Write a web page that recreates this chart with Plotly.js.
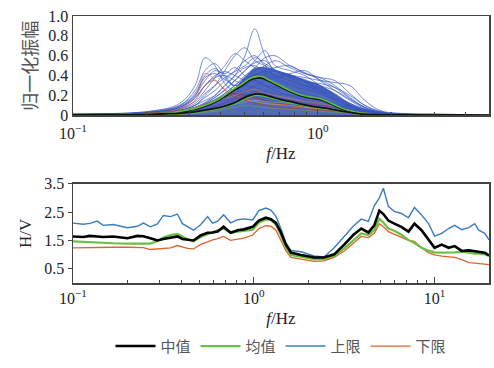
<!DOCTYPE html>
<html><head><meta charset="utf-8">
<script src="https://cdn.plot.ly/plotly-3.0.1.min.js"></script>
<style>html,body{margin:0;padding:0;background:#fff;}#chart{width:494px;height:368px;}</style>
</head><body><div id="chart"></div>
<script>
// ---------- Top panel: normalized amplitude spectra ----------
const bundleFreq = [0.1,0.206,0.273,0.315,0.346,0.380,0.417,0.458,0.504,0.553,0.608,0.668,0.769,0.885,1.019,1.173,1.351,1.555,1.791,2.161,5.0];
const denseEnvelope = [0.01,0.02,0.04,0.07,0.11,0.15,0.2,0.27,0.38,0.47,0.48,0.45,0.41,0.35,0.3,0.21,0.11,0.05,0.02,0.01,0.005];
const blueSpectra = [
  [0.01,0.04,0.12,0.3,0.58,0.5,0.32,0.25,0.3,0.35,0.3,0.25,0.2,0.15,0.12,0.1,0.06,0.03,0.02,0.01,0.005],
  [0.01,0.03,0.1,0.25,0.45,0.52,0.4,0.3,0.33,0.4,0.38,0.3,0.25,0.2,0.15,0.12,0.08,0.04,0.02,0.01,0.005],
  [0.01,0.03,0.08,0.2,0.35,0.45,0.42,0.48,0.4,0.35,0.3,0.28,0.25,0.22,0.18,0.12,0.07,0.04,0.02,0.01,0.005],
  [0.005,0.02,0.05,0.1,0.15,0.2,0.3,0.4,0.6,0.87,0.6,0.45,0.4,0.35,0.25,0.2,0.1,0.05,0.02,0.01,0.005],
  [0.005,0.02,0.05,0.1,0.2,0.3,0.45,0.6,0.68,0.55,0.5,0.45,0.38,0.3,0.25,0.18,0.1,0.05,0.02,0.01,0.005],
  [0.005,0.02,0.04,0.08,0.12,0.18,0.25,0.35,0.45,0.55,0.65,0.5,0.45,0.4,0.3,0.22,0.12,0.06,0.03,0.01,0.005],
  [0.005,0.02,0.04,0.07,0.1,0.15,0.22,0.3,0.38,0.45,0.5,0.55,0.48,0.42,0.38,0.3,0.18,0.08,0.03,0.01,0.005],
  [0.005,0.02,0.05,0.1,0.18,0.25,0.35,0.45,0.55,0.6,0.5,0.4,0.42,0.45,0.35,0.25,0.15,0.07,0.03,0.01,0.005],
  [0.005,0.03,0.07,0.14,0.25,0.38,0.5,0.62,0.55,0.48,0.45,0.4,0.35,0.3,0.28,0.2,0.12,0.06,0.02,0.01,0.005],
  [0.005,0.015,0.03,0.05,0.08,0.12,0.18,0.25,0.32,0.4,0.45,0.48,0.5,0.42,0.38,0.35,0.22,0.1,0.04,0.015,0.005],
  [0.005,0.03,0.08,0.18,0.3,0.38,0.4,0.35,0.3,0.28,0.25,0.22,0.2,0.18,0.15,0.1,0.06,0.03,0.015,0.008,0.004],
  [0.005,0.015,0.04,0.08,0.12,0.18,0.26,0.35,0.45,0.53,0.55,0.45,0.38,0.34,0.32,0.28,0.2,0.1,0.04,0.015,0.005],
  [0.005,0.02,0.04,0.08,0.13,0.2,0.3,0.4,0.48,0.5,0.42,0.38,0.32,0.28,0.22,0.16,0.09,0.05,0.02,0.01,0.005],
  [0.005,0.01,0.02,0.04,0.06,0.09,0.13,0.18,0.24,0.3,0.35,0.38,0.4,0.38,0.35,0.33,0.3,0.15,0.05,0.02,0.005],
  [0.01,0.04,0.1,0.22,0.4,0.47,0.38,0.28,0.22,0.2,0.18,0.15,0.12,0.1,0.08,0.06,0.04,0.02,0.01,0.008,0.004],
  [0.005,0.015,0.03,0.06,0.1,0.15,0.2,0.26,0.32,0.38,0.42,0.45,0.4,0.36,0.3,0.25,0.16,0.08,0.03,0.01,0.005],
  [0.008,0.03,0.09,0.2,0.38,0.42,0.36,0.3,0.35,0.42,0.4,0.36,0.3,0.26,0.22,0.15,0.09,0.04,0.02,0.01,0.005],
  [0.006,0.025,0.06,0.12,0.22,0.3,0.38,0.44,0.5,0.58,0.52,0.46,0.4,0.33,0.27,0.2,0.12,0.06,0.025,0.01,0.005],
  [0.005,0.015,0.035,0.07,0.11,0.16,0.22,0.3,0.4,0.48,0.58,0.6,0.5,0.43,0.36,0.28,0.17,0.08,0.03,0.012,0.005],
  [0.007,0.03,0.08,0.17,0.3,0.4,0.44,0.4,0.36,0.4,0.44,0.4,0.35,0.3,0.24,0.17,0.1,0.05,0.02,0.01,0.005]
];
const colorSpectra = [
  [0.006,0.025,0.07,0.18,0.42,0.36,0.26,0.2,0.18,0.16,0.14,0.12,0.1,0.08,0.06,0.04,0.02,0.01,0.005,0.003,0.002],
  [0.005,0.01,0.03,0.06,0.1,0.15,0.2,0.22,0.2,0.18,0.15,0.13,0.1,0.09,0.07,0.05,0.03,0.015,0.008,0.004,0.002],
  [0.003,0.008,0.015,0.03,0.05,0.07,0.1,0.12,0.15,0.14,0.12,0.11,0.1,0.08,0.07,0.06,0.04,0.02,0.01,0.005,0.002],
  [0.004,0.01,0.02,0.04,0.06,0.09,0.12,0.16,0.2,0.24,0.22,0.18,0.15,0.12,0.1,0.08,0.05,0.025,0.01,0.005,0.002],
  [0.003,0.006,0.012,0.02,0.03,0.04,0.06,0.08,0.1,0.09,0.08,0.07,0.06,0.05,0.04,0.03,0.02,0.01,0.005,0.003,0.001],
  [0.004,0.01,0.02,0.035,0.05,0.07,0.09,0.11,0.13,0.15,0.14,0.13,0.12,0.1,0.08,0.06,0.03,0.015,0.008,0.004,0.002],
  [0.005,0.015,0.04,0.08,0.12,0.15,0.17,0.2,0.24,0.26,0.22,0.2,0.17,0.14,0.12,0.09,0.05,0.02,0.01,0.005,0.002],
  [0.006,0.02,0.06,0.15,0.3,0.35,0.25,0.18,0.15,0.12,0.1,0.08,0.07,0.06,0.05,0.04,0.02,0.01,0.005,0.003,0.002]
];
const colorSpectraColors = ['#d95319','#a2142f','#edb120','#7e2f8e','#77ac30','#4dbeee','#e07b39','#c0392b'];

const topFreq = [0.1,0.129,0.171,0.206,0.238,0.273,0.315,0.362,0.398,0.450,0.494,0.528,0.558,0.591,0.637,0.700,0.769,0.844,0.927,1.019,1.119,1.230,1.351,1.484,1.791,2.609,3.799,5.0];
const topUpperGreen = [0.01,0.01,0.012,0.015,0.02,0.04,0.07,0.12,0.17,0.26,0.32,0.37,0.39,0.39,0.35,0.30,0.25,0.21,0.185,0.17,0.13,0.08,0.045,0.025,0.01,0.008,0.006,0.005];
const topUpperBlack = [0.008,0.008,0.01,0.012,0.017,0.035,0.062,0.11,0.16,0.245,0.305,0.355,0.375,0.375,0.34,0.29,0.24,0.2,0.175,0.16,0.12,0.072,0.04,0.02,0.008,0.006,0.005,0.004];
const topLowerBlack = [0.005,0.006,0.008,0.01,0.015,0.02,0.035,0.06,0.08,0.12,0.17,0.2,0.215,0.21,0.19,0.16,0.14,0.115,0.095,0.08,0.065,0.045,0.03,0.015,0.008,0.005,0.004,0.003];
const topLowerGreen = [0.004,0.005,0.006,0.008,0.012,0.016,0.03,0.052,0.072,0.11,0.158,0.188,0.203,0.198,0.178,0.15,0.13,0.106,0.087,0.072,0.058,0.04,0.026,0.012,0.006,0.004,0.003,0.002];
const topYTicks = [0,0.2,0.4,0.6,0.8,1.0];
const topYTickText = ['0','0.2','0.4','0.6','0.8','1.0'];

// ---------- Bottom panel: H/V ----------
const hvFreq = [0.100,0.114,0.124,0.136,0.147,0.167,0.200,0.227,0.245,0.268,0.293,0.316,0.346,0.378,0.403,0.430,0.464,0.508,0.555,0.592,0.631,0.681,0.745,0.815,0.880,0.987,1.066,1.166,1.243,1.326,1.413,1.506,1.606,1.824,2.154,2.448,2.783,3.162,3.548,3.930,4.30,4.64,4.95,5.21,5.55,5.99,6.55,7.17,7.74,8.47,9.26,10.0,10.94,11.96,12.92,14.13,15.45,16.68,17.55,18.96,20.0];
const hvUpper = [2.11,2.07,2.10,2.18,2.03,2.06,1.95,2.00,2.11,1.98,2.08,2.38,2.34,2.43,2.09,1.98,1.86,2.05,2.34,2.11,2.18,2.40,2.12,2.23,2.26,2.22,2.55,2.64,2.57,2.35,1.92,1.41,1.15,1.10,0.95,0.92,1.24,1.64,2.00,2.25,2.17,2.72,3.00,3.34,2.70,2.52,2.45,2.30,2.66,2.40,2.09,1.65,1.75,1.92,2.03,1.88,1.95,2.09,1.86,1.75,1.52];
const hvMedian = [1.64,1.62,1.66,1.63,1.62,1.64,1.58,1.66,1.65,1.58,1.50,1.55,1.60,1.64,1.55,1.53,1.50,1.68,1.77,1.78,1.81,1.98,1.77,1.86,1.89,1.98,2.20,2.30,2.25,2.12,1.78,1.35,1.07,0.99,0.90,0.90,1.01,1.35,1.69,1.92,1.78,2.03,2.55,2.43,2.20,2.09,1.98,1.81,2.09,1.86,1.52,1.24,1.35,1.24,1.30,1.13,1.15,1.12,1.10,1.07,0.97];
const hvMean = [1.47,1.45,1.43,1.42,1.41,1.40,1.39,1.39,1.39,1.39,1.48,1.60,1.69,1.73,1.64,1.54,1.47,1.62,1.72,1.80,1.86,1.92,1.77,1.81,1.83,1.88,2.12,2.24,2.22,2.05,1.69,1.24,0.99,0.92,0.84,0.84,0.95,1.22,1.52,1.75,1.69,1.86,2.26,2.13,1.92,1.84,1.70,1.52,1.41,1.24,1.14,1.08,1.07,1.07,1.08,1.10,1.06,1.03,1.03,1.01,0.95];
const hvLower = [1.24,1.25,1.24,1.26,1.27,1.26,1.26,1.27,1.25,1.18,1.20,1.22,1.24,1.32,1.27,1.22,1.20,1.36,1.45,1.52,1.56,1.64,1.50,1.55,1.58,1.69,1.92,2.02,2.00,1.86,1.52,1.13,0.90,0.84,0.76,0.78,0.90,1.13,1.41,1.64,1.60,1.75,2.09,1.98,1.81,1.72,1.60,1.50,1.47,1.24,1.07,0.99,0.95,0.92,0.90,0.82,0.72,0.70,0.69,0.67,0.65];
const legendNames = ['中值','均值','上限','下限'];

const serif = "'Liberation Serif', 'Times New Roman', serif";
const cjk = "'Noto Sans CJK SC', sans-serif";
const traces = [];

traces.push({x: bundleFreq, y: denseEnvelope, xaxis:'x', yaxis:'y', type:'scatter', mode:'lines',
  line:{color:'rgba(40,70,175,0.9)', width:1, shape:'spline'}, fill:'tozeroy', fillcolor:'rgba(42,72,175,0.82)', showlegend:false, hoverinfo:'skip'});
blueSpectra.forEach(s => traces.push({x: bundleFreq, y: s, xaxis:'x', yaxis:'y', type:'scatter', mode:'lines',
  line:{color:'rgba(55,85,195,0.75)', width:0.9, shape:'spline'}, showlegend:false, hoverinfo:'skip'}));
colorSpectra.forEach((s,i) => traces.push({x: bundleFreq, y: s, xaxis:'x', yaxis:'y', type:'scatter', mode:'lines',
  line:{color:colorSpectraColors[i], width:0.7, shape:'spline'}, opacity:0.8, showlegend:false, hoverinfo:'skip'}));
traces.push({x: topFreq, y: topUpperBlack, xaxis:'x', yaxis:'y', mode:'lines', line:{color:'#111', width:1.8, shape:'spline'}, showlegend:false});
traces.push({x: topFreq, y: topUpperGreen, xaxis:'x', yaxis:'y', mode:'lines', line:{color:'#5cc03a', width:1.6, shape:'spline'}, showlegend:false});
traces.push({x: topFreq, y: topLowerGreen, xaxis:'x', yaxis:'y', mode:'lines', line:{color:'#5cc03a', width:1.6, shape:'spline'}, showlegend:false});
traces.push({x: topFreq, y: topLowerBlack, xaxis:'x', yaxis:'y', mode:'lines', line:{color:'#111', width:1.8, shape:'spline'}, showlegend:false});

const hvSeries = [hvMedian, hvMean, hvUpper, hvLower];
const hvColors = ['#000000','#6abf45','#3a7cc2','#e0622c'];
const hvWidths = [2.6, 2.2, 1.4, 1.3];
const order = [2,3,1,0];
order.forEach(i => traces.push({x: hvFreq, y: hvSeries[i], xaxis:'x2', yaxis:'y2', type:'scatter', mode:'lines',
  name: legendNames[i], legendrank: i+1, line:{color:hvColors[i], width:hvWidths[i]}}));

const axisCommon = {showline:true, mirror:true, linecolor:'#444', linewidth:1.5, showgrid:false, zeroline:false,
  tickfont:{family:serif, size:16, color:'#222'}};
const layout = {
  width:494, height:368, paper_bgcolor:'#fff', plot_bgcolor:'#fff',
  font:{family:serif},
  margin:{l:73, r:5, t:16, b:78},
  showlegend:true,
  legend:{orientation:'h', x:0.5, xanchor:'center', y:-0.237, yanchor:'middle', font:{family:cjk, size:15, color:'#555'},
    itemwidth:40, traceorder:'normal'},
  xaxis: Object.assign({}, axisCommon, {type:'log', range:[-1, Math.log10(5)], domain:[0,1], anchor:'y',
    tickvals:[0.1,1], ticktext:['10<sup>−1</sup>','10<sup>0</sup>'], ticks:'inside', ticklen:6, tickcolor:'#444',
    ticklabelstandoff:3,
    minor:{ticks:'inside', ticklen:3, tickcolor:'#444', dtick:'D1'},
    title:{text:'<i>f</i>/Hz', font:{family:serif, size:17, color:'#222'}, standoff:6}}),
  yaxis: Object.assign({}, axisCommon, {range:[0,1], domain:[0.628,1], anchor:'x', tickvals:topYTicks, ticktext:topYTickText,
    ticks:'', title:{text:'归一化振幅', font:{family:cjk, size:18, color:'#555'}, standoff:6}}),
  xaxis2: Object.assign({}, axisCommon, {type:'log', range:[-1, Math.log10(20)], domain:[0,1], anchor:'y2',
    tickvals:[0.1,1,10], ticktext:['10<sup>−1</sup>','10<sup>0</sup>','10<sup>1</sup>'], ticks:'inside', ticklen:6, tickcolor:'#444',
    minor:{ticks:'inside', ticklen:3, tickcolor:'#444', dtick:'D1'},
    title:{text:'<i>f</i>/Hz', font:{family:serif, size:17, color:'#222'}, standoff:6}}),
  yaxis2: Object.assign({}, axisCommon, {range:[0,3.5], domain:[0,0.372], anchor:'x2', tickvals:[0.5,1.5,2.5,3.5],
    ticktext:['0.5','1.5','2.5','3.5'], ticks:'outside', ticklen:4, tickcolor:'#444',
    title:{text:'H/V', font:{family:serif, size:17, color:'#222'}, standoff:8}})
};
Plotly.newPlot('chart', traces, layout, {displayModeBar:false, staticPlot:true});
</script>
</body></html>
